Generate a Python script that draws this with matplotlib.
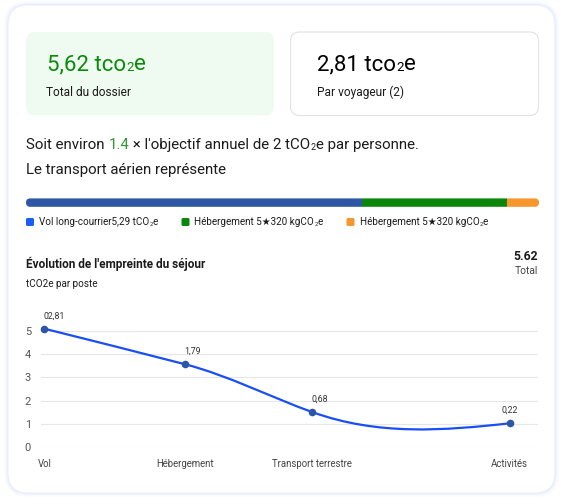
import numpy as np
import matplotlib
matplotlib.use("Agg")
import matplotlib.pyplot as plt
from matplotlib.patches import FancyBboxPatch, PathPatch
from matplotlib.path import Path

plt.rcParams['font.family'] = ['Roboto', 'DejaVu Sans']

# --- data ---
total_label = "5,62 tco₂e"
per_traveller_label = "2,81 tco₂e"
ratio_label = "1.4"
bar_shares = [65.4, 28.3, 6.3]
bar_colors = ['#2d56a5', '#0a870a', '#f7962b']
legend_labels = ["Vol long-courrier5,29 tCO₂e",
                 "Hébergement 5★320 kgCO₂e",
                 "Hébergement 5★320 kgCO₂e"]
legend_colors = ['#1a5cf5', '#0a870a', '#f7962b']

categories = ["Vol", "Hébergement", "Transport terrestre", "Activités"]
x_pos = [0, 1, 1.9, 3.3]
values = [5.09, 3.56, 1.51, 1.03]
value_labels = ["02,81", "1,79", "0,68", "0,22"]

# smoothing: tangent slope of the curve at each point (data units)
curve_slopes = [-1.53, -1.57, -2.18, 0.67]

DARK = '#1b1b1b'

fig = plt.figure(figsize=(5.63, 5.04), dpi=100)
bg = fig.add_axes([0, 0, 1, 1])
bg.set_xlim(0, 563)
bg.set_ylim(504, 0)
bg.axis('off')


def rich(x, y, s, size, color, prev=None, sub_scale=0.6):
    # baseline text; '₂' drawn as a small slightly lowered 2
    pieces = s.split('₂')
    for k, p in enumerate(pieces):
        if k > 0:
            prev = bg.annotate('2', xy=(1, y), xycoords=(prev, 'data'), xytext=(0.3, -size * 0.06),
                               textcoords='offset points', va='baseline', fontsize=size * sub_scale,
                               color=color)
        if p == '':
            continue
        if prev is None:
            prev = bg.text(x, y, p, fontsize=size, color=color, va='baseline')
        else:
            prev = bg.annotate(p, xy=(1, y), xycoords=(prev, 'data'), va='baseline',
                               fontsize=size, color=color)
    return prev


# card with soft blue halo
for i, a in enumerate([0.10, 0.14, 0.20, 0.30]):
    g = 4 - i
    bg.add_patch(FancyBboxPatch((8 - g, 5 - g), 547 + 2 * g, 488 + 2 * g,
                                boxstyle=f"round,pad=0,rounding_size={20 + g}",
                                fc='#dfe7fc', ec='none', alpha=a))
bg.add_patch(FancyBboxPatch((8, 5), 547, 488, boxstyle="round,pad=0,rounding_size=20",
                            fc='white', ec='#e9eefc', lw=0.8))

# summary boxes
bg.add_patch(FancyBboxPatch((26, 32), 248, 83.5, boxstyle="round,pad=0,rounding_size=9",
                            fc='#effaf0', ec='none'))
bg.add_patch(FancyBboxPatch((290.5, 32), 248, 83.5, boxstyle="round,pad=0,rounding_size=9",
                            fc='white', ec='#e2e2e2', lw=0.8))
rich(47, 70, total_label, 16, '#0b8a0b')
bg.text(46.5, 92, "Total du dossier", color=DARK, fontsize=8.6, va='center')
rich(317, 70, per_traveller_label, 16, 'black')
bg.text(317, 92, "Par voyageur (2)", color=DARK, fontsize=8.6, va='center')

# sentence
t1 = rich(26, 149, "Soit environ ", 10.8, DARK)
t2 = rich(0, 149, ratio_label, 10.8, '#2e9a2e', prev=t1)
rich(0, 149, " × l'objectif annuel de 2 tCO₂e par personne.", 10.8, DARK, prev=t2)
rich(26, 174, "Le transport aérien représente", 10.8, DARK)

# stacked bar
bar_ax = fig.add_axes([26 / 563, 1 - 206.8 / 504, 513 / 563, 8.4 / 504])
bar_ax.axis('off')
bar_ax.set_xlim(0, sum(bar_shares))
bar_ax.set_ylim(-0.5, 0.5)
clip = FancyBboxPatch((26, 198.4), 513, 8.4, boxstyle="round,pad=0,rounding_size=4.2",
                      fc='none', ec='none', transform=bg.transData)
bg.add_patch(clip)
bars = bar_ax.barh(0, bar_shares, left=np.cumsum([0] + bar_shares[:-1]), height=1,
                   color=bar_colors, lw=0)
for b in bars:
    b.set_clip_path(clip)

# legend
for lx, lab, c in zip([26, 181.5, 346.5], legend_labels, legend_colors):
    bg.add_patch(FancyBboxPatch((lx, 218), 8, 8, boxstyle="round,pad=0,rounding_size=1.5",
                                fc=c, ec='none'))
    rich(lx + 13, 225.3, lab, 7.1, DARK)

# chart header
bg.text(26, 264, "Évolution de l'empreinte du séjour", color=DARK, fontsize=8.5,
        fontweight='bold', va='center')
bg.text(26, 284, "tCO2e par poste", color=DARK, fontsize=7.1, va='center')
bg.text(538.5, 257, "5.62", color=DARK, fontsize=8.8, fontweight='bold', va='center', ha='right')
bg.text(538.5, 271, "Total", color='#444444', fontsize=7.4, va='center', ha='right')

# line chart
ax = fig.add_axes([40.7 / 563, 1 - 447.3 / 504, (538 - 40.7) / 563, (447.3 - 323.8) / 504])
ax.set_xlim(-0.026, 3.50)
ax.set_ylim(0, 5.3)
for s in ax.spines.values():
    s.set_visible(False)
ax.set_yticks(range(6))
ax.grid(axis='y', color='#e6e6e6', lw=0.8)
ax.set_axisbelow(True)
ax.tick_params(axis='y', length=0, pad=7, labelsize=7.9, labelcolor='#555555')
ax.set_xticks(x_pos)
ax.set_xticklabels(categories)
ax.tick_params(axis='x', length=0, pad=8.5, labelsize=6.9, labelcolor='#444444')

# smooth curve: cubic hermite segments through the points, drawn as bezier
verts = [(x_pos[0], values[0])]
codes = [Path.MOVETO]
for i in range(len(x_pos) - 1):
    h = x_pos[i + 1] - x_pos[i]
    verts += [(x_pos[i] + h / 3, values[i] + curve_slopes[i] * h / 3),
              (x_pos[i + 1] - h / 3, values[i + 1] - curve_slopes[i + 1] * h / 3),
              (x_pos[i + 1], values[i + 1])]
    codes += [Path.CURVE4] * 3
ax.add_patch(PathPatch(Path(verts, codes), fill=False, ec='#1a4ef5', lw=1.6, clip_on=False,
                       capstyle='round', zorder=3))
ax.scatter(x_pos, values, s=30, color='#2d56a5', zorder=4, clip_on=False, lw=0)
n = len(x_pos)
for i, (xv, yv, lab) in enumerate(zip(x_pos, values, value_labels)):
    ha = 'center' if i == n - 1 else 'left'
    ax.annotate(lab, (xv, yv), xytext=(0 if ha == 'center' else -0.5, 9.2),
                textcoords='offset points', ha=ha, va='center', fontsize=6.3, color='#333333')

fig.savefig("out.png", dpi=100)
